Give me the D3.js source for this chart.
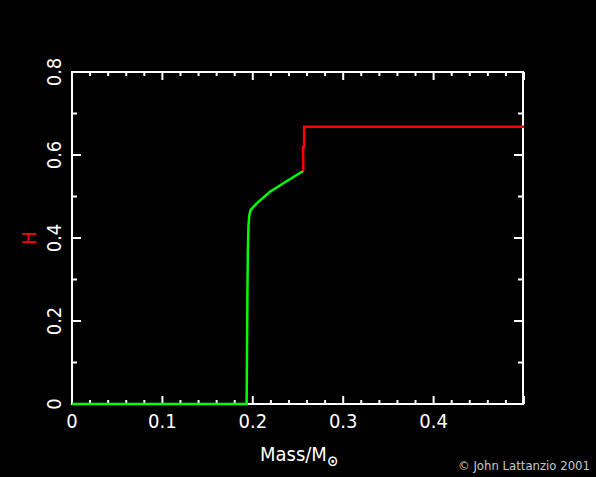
<!DOCTYPE html>
<html><head><meta charset="utf-8">
<script src="https://cdn.jsdelivr.net/npm/d3@7"></script>
<style>
html,body{margin:0;padding:0;background:#000;}
svg{display:block;}
</style></head>
<body>
<script>
// Data
const massGreen = [0, 0.1932, 0.1935, 0.1940, 0.1945, 0.1952, 0.1962, 0.1975, 0.2043, 0.2190, 0.2338, 0.2485, 0.2559];
const hGreen    = [0, 0,      0.10,   0.25,   0.37,   0.43,   0.455,  0.467,  0.4836, 0.5116, 0.5318, 0.5518, 0.5614];
const massRed = [0.2559, 0.2556, 0.2568, 0.2568, 0.5];
const hRed    = [0.5614, 0.62,   0.62,   0.668,  0.668];
const xMajor = [0, 0.1, 0.2, 0.3, 0.4];
const xMajorLabels = ["0", "0.1", "0.2", "0.3", "0.4"];
const yMajor = [0, 0.2, 0.4, 0.6, 0.8];
const yMajorLabels = ["0", "0.2", "0.4", "0.6", "0.8"];
const xMinor = d3.range(0, 0.5001, 0.02);
const yMinor = d3.range(0, 0.8001, 0.1);

const W = 596, H = 477;
const L = 72, R = 524, T = 72, B = 404;
const svg = d3.select("body").append("svg").attr("width", W).attr("height", H).style("background", "#000");
const x = d3.scaleLinear().domain([0, 0.5]).range([L, R]);
const y = d3.scaleLinear().domain([0, 0.8]).range([B, T]);
const font = "'Liberation Sans Narrow','DejaVu Sans Condensed','Liberation Sans',sans-serif";

// frame
svg.append("rect").attr("x", L).attr("y", T).attr("width", R - L - 1).attr("height", B - T)
  .attr("fill", "none").attr("stroke", "#fff").attr("stroke-width", 2);

const g = svg.append("g").attr("stroke", "#fff").attr("stroke-width", 2);
const isMaj = (v, step) => Math.abs(v / step - Math.round(v / step)) < 1e-6;
xMinor.forEach(v => {
  const len = isMaj(v, 0.1) ? 8 : 4;
  g.append("line").attr("x1", x(v)).attr("x2", x(v)).attr("y1", B).attr("y2", B - len);
  g.append("line").attr("x1", x(v)).attr("x2", x(v)).attr("y1", T).attr("y2", T + len);
});
yMinor.forEach(v => {
  const len = isMaj(v, 0.2) ? 9 : 5;
  g.append("line").attr("y1", y(v)).attr("y2", y(v)).attr("x1", L).attr("x2", L + len);
  g.append("line").attr("y1", y(v)).attr("y2", y(v)).attr("x1", R - 1).attr("x2", R - 1 - len);
});

// tick labels
xMajor.forEach((v, i) => {
  svg.append("text").attr("x", x(v)).attr("y", 428).attr("text-anchor", "middle")
    .attr("fill", "#fff").attr("font-family", font).attr("font-size", 20).text(xMajorLabels[i]);
});
yMajor.forEach((v, i) => {
  svg.append("text").attr("transform", `translate(61,${y(v)}) rotate(-90)`).attr("text-anchor", "middle")
    .attr("fill", "#fff").attr("font-family", font).attr("font-size", 20).text(yMajorLabels[i]);
});

// lines
const line = d3.line().x(d => x(d[0])).y(d => y(d[1]));
svg.append("path").datum(massGreen.map((m, i) => [m, hGreen[i]])).attr("d", line)
  .attr("fill", "none").attr("stroke", "#00ff00").attr("stroke-width", 2.5);
svg.append("path").datum(massRed.map((m, i) => [m, hRed[i]])).attr("d", line)
  .attr("fill", "none").attr("stroke", "#ff0000").attr("stroke-width", 2.5);

// axis titles
const xt = svg.append("text").attr("x", 260).attr("y", 461).attr("fill", "#fff")
  .attr("font-family", font).attr("font-size", 20);
xt.append("tspan").text("Mass/M");
xt.append("tspan").attr("dy", 5).attr("font-size", 15).attr("font-weight", "bold").text("\u2299");
svg.append("text").attr("transform", "translate(36,238) rotate(-90)").attr("text-anchor", "middle")
  .attr("fill", "#ff0000").attr("font-family", font).attr("font-size", 20).text("H");

svg.append("text").attr("x", 590).attr("y", 470).attr("text-anchor", "end").attr("fill", "#c8c8c8")
  .attr("font-family", font).attr("font-size", 13).text("\u00a9 John Lattanzio 2001");
</script>
</body></html>
